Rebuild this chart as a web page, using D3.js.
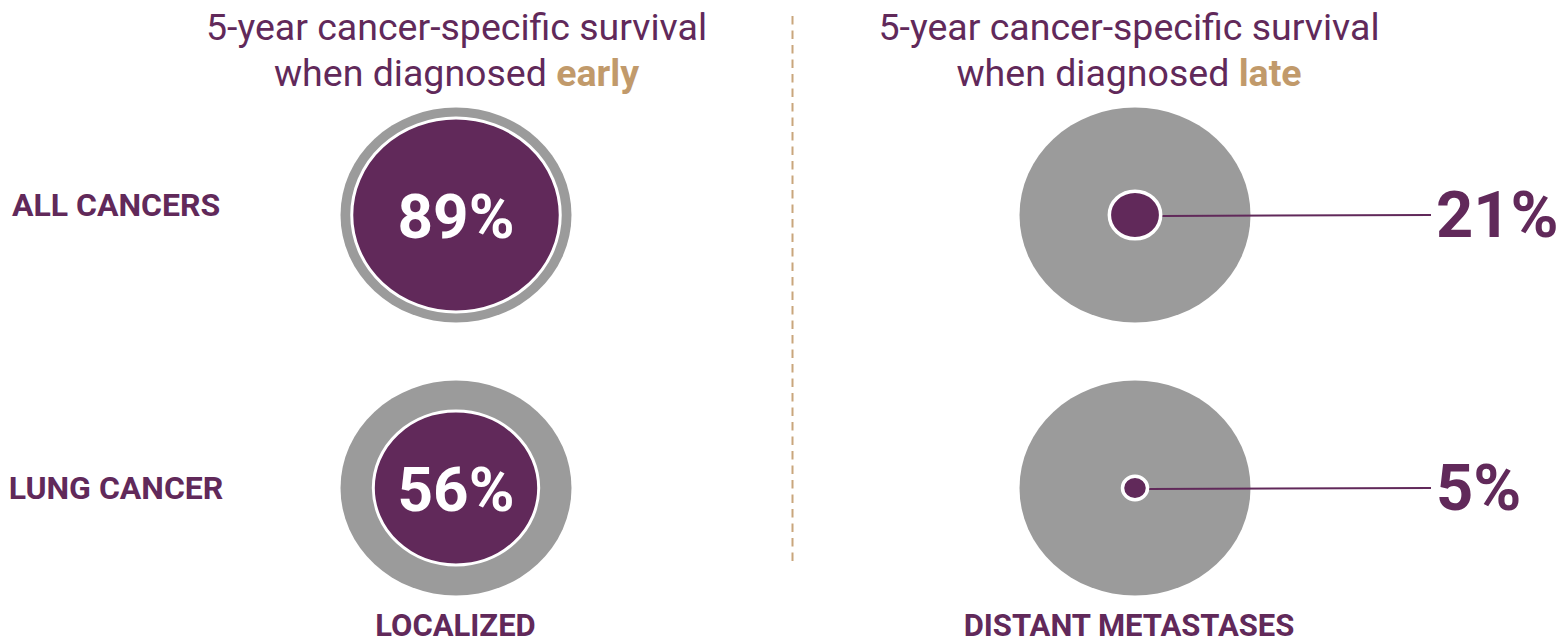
<!DOCTYPE html>
<html>
<head>
<meta charset="utf-8">
<script src="https://cdn.jsdelivr.net/npm/d3@7"></script>
<style>
  html, body { margin: 0; padding: 0; background: #fff; }
  svg { display: block; font-family: Roboto, "Noto Sans", sans-serif; }
</style>
</head>
<body>
<svg id="chart" width="1560" height="644"></svg>
<script>
// Survival data (percent) for each cancer group and stage at diagnosis
const groups = ["ALL CANCERS", "LUNG CANCER"];
const earlySurvival = [89, 56];
const lateSurvival = [21, 5];
const stageLabels = ["LOCALIZED", "DISTANT METASTASES"];
const panelTitles = [
  ["5-year cancer-specific survival", "when diagnosed ", "early"],
  ["5-year cancer-specific survival", "when diagnosed ", "late"]
];

const purple = "#61295a";
const grey = "#9b9b9b";
const tan = "#c19a6b";

const svg = d3.select("#chart");

// Layout
const panelX = d3.scaleOrdinal().domain(["early", "late"]).range([456, 1135]);
const rowY = d3.scaleOrdinal().domain(groups).range([215, 488]);

// Area-proportional radius scales for the survival markers (horizontal radius)
const rEarly = d3.scaleSqrt().domain([0, 100]).range([0, 110.5]);
const rLate = d3.scaleSqrt().domain([0, 100]).range([0, 56]);
const squash = 0.93;              // vertical / horizontal radius
const outer = { rx: 115.5, ry: 107.5 };

// Panel titles
panelTitles.forEach((t, i) => {
  const cx = i === 0 ? 456.5 : 1129;
  const title = svg.append("text")
    .attr("text-anchor", "middle")
    .attr("fill", purple)
    .attr("font-size", 37.5)
    .attr("font-weight", 400);
  title.append("tspan").attr("x", cx).attr("y", 40).text(t[0]);
  const l2 = title.append("tspan").attr("x", cx).attr("y", 86);
  l2.append("tspan").text(t[1]);
  l2.append("tspan").attr("fill", tan).attr("font-weight", 700).text(t[2]);
});

// Dashed divider between panels
svg.append("line")
  .attr("x1", 792.5).attr("x2", 792.5)
  .attr("y1", 16).attr("y2", 563)
  .attr("stroke", "#c9a67c")
  .attr("stroke-width", 2)
  .attr("stroke-dasharray", "8.5 6");

// Row labels
svg.selectAll("text.group")
  .data(groups)
  .join("text")
  .attr("class", "group")
  .attr("x", 116)
  .attr("y", d => rowY(d) + 1 + (d === "LUNG CANCER" ? 9.5 : 0))
  .attr("text-anchor", "middle")
  .attr("fill", purple)
  .attr("font-size", 32)
  .attr("font-weight", 700)
  .text(d => d);

// Early: grey reference disc with the survival share inside
const early = svg.selectAll("g.early")
  .data(groups.map((g, i) => ({ group: g, value: earlySurvival[i] })))
  .join("g")
  .attr("class", "early")
  .attr("transform", d => `translate(${panelX("early")},${rowY(d.group)})`);

early.append("ellipse")
  .attr("rx", outer.rx)
  .attr("ry", outer.ry)
  .attr("fill", grey);

early.append("ellipse")
  .attr("rx", d => rEarly(d.value))
  .attr("ry", d => rEarly(d.value) * squash)
  .attr("fill", purple)
  .attr("stroke", "#fff")
  .attr("stroke-width", 3);

early.append("text")
  .attr("text-anchor", "middle")
  .attr("y", 23)
  .attr("fill", "#fff")
  .attr("font-size", 62)
  .attr("font-weight", 700)
  .text(d => d.value + "%");

// Late: grey reference disc, small survival dot and leader to the value
const late = svg.selectAll("g.late")
  .data(groups.map((g, i) => ({ group: g, value: lateSurvival[i] })))
  .join("g")
  .attr("class", "late")
  .attr("transform", d => `translate(${panelX("late")},${rowY(d.group)})`);

late.append("ellipse")
  .attr("rx", outer.rx)
  .attr("ry", outer.ry)
  .attr("fill", grey);

late.append("line")
  .attr("x1", d => rLate(d.value) + 1.5)
  .attr("x2", 296)
  .attr("y1", 1)
  .attr("y2", 0)
  .attr("stroke", purple)
  .attr("stroke-width", 2);

late.append("ellipse")
  .attr("rx", d => rLate(d.value))
  .attr("ry", d => rLate(d.value) * squash)
  .attr("fill", purple)
  .attr("stroke", "#fff")
  .attr("stroke-width", 3.5);

late.append("text")
  .attr("x", 301)
  .attr("y", 22)
  .attr("fill", purple)
  .attr("font-size", 65)
  .attr("font-weight", 700)
  .text(d => d.value + "%");

// Stage labels along the bottom
svg.selectAll("text.stage")
  .data(stageLabels)
  .join("text")
  .attr("class", "stage")
  .attr("x", (d, i) => i === 0 ? 455.5 : 1129)
  .attr("y", 636)
  .attr("text-anchor", "middle")
  .attr("fill", purple)
  .attr("font-size", 31)
  .attr("font-weight", 700)
  .text(d => d);
</script>
</body>
</html>
